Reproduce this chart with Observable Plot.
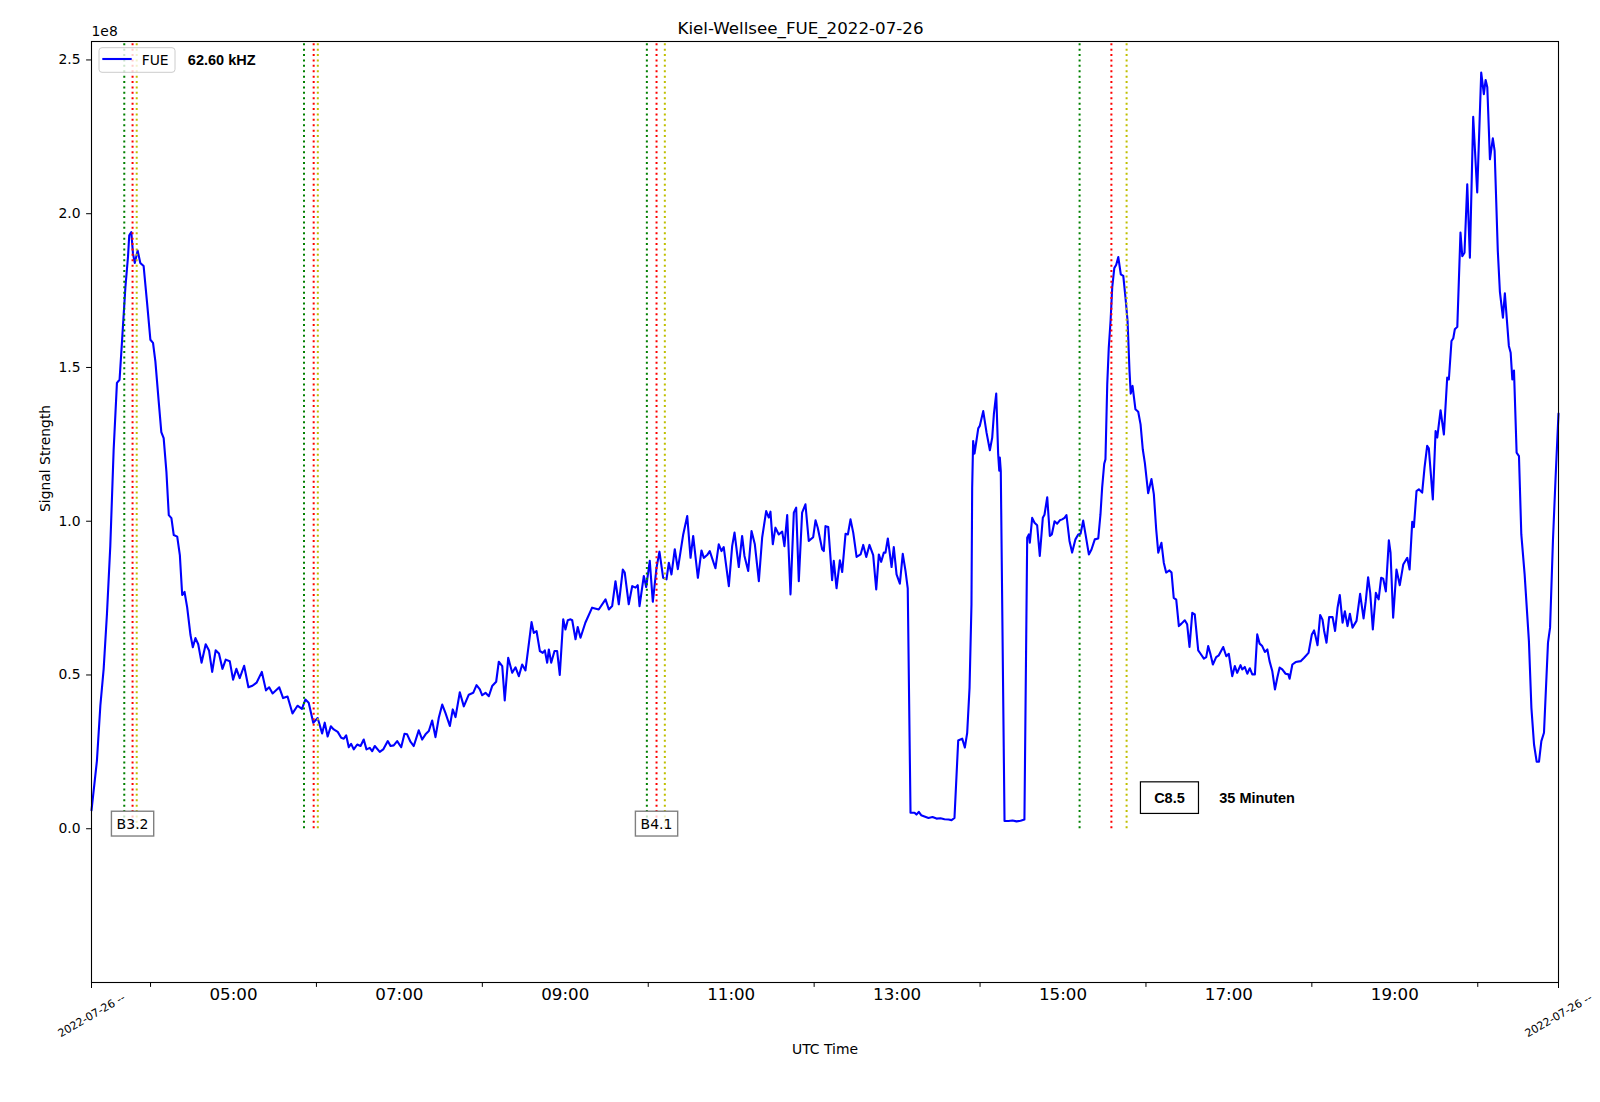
<!DOCTYPE html>
<html>
<head>
<meta charset="utf-8">
<script src="https://cdn.jsdelivr.net/npm/d3@7"></script>
<script src="https://cdn.jsdelivr.net/npm/@observablehq/plot@0.6"></script>
<style>
  html, body { margin: 0; padding: 0; background: #ffffff; }
  #chart { width: 1600px; height: 1102px; }
</style>
</head>
<body>
<div id="chart"></div>
<script>
// ---- data (time in minutes after 00:00 UTC, signal in units of 1e8) ----
const minutes = [
197.3,201.2,203.7,206.1,208.5,210.9,213.3,215.7,217.6,219.3,221.8,223.7,224.6,226.1,227.3,228.6,230.7,232.6,235.0,237.5,
239.9,241.8,243.5,245.9,247.8,249.5,251.5,253.2,255.1,256.8,259.3,261.2,262.9,264.6,266.5,268.9,270.6,272.5,274.5,276.9,
279.9,282.3,284.6,287.1,289.5,292.0,294.4,297.3,299.7,302.1,304.5,307.7,310.8,313.7,316.7,320.5,323.5,325.8,328.3,333.1,
335.9,339.1,342.7,346.3,349.5,352.0,354.4,357.7,360.9,364.1,366.0,368.1,
370.4,372.5,375.4,377.9,379.8,381.5,383.4,385.1,387.0,389.5,391.9,394.2,396.2,398.6,400.3,402.2,405.8,408.3,411.6,413.6,
415.9,418.4,421.3,423.7,425.6,428.0,430.4,434.0,436.5,438.9,441.3,443.7,446.1,448.5,451.0,453.3,456.5,458.6,460.6,463.7,
466.6,470.2,473.4,475.8,478.2,479.9,482.3,484.7,487.1,490.0,491.9,494.4,496.2,498.7,501.6,504.0,506.4,508.8,511.2,513.6,
515.6,517.2,519.2,521.6,523.7,525.2,526.9,528.1,529.8,532.2,534.1,536.0,538.5,540.1,541.8,543.8,545.0,547.4,549.0,551.0,
554.5,
559.4,564.2,569.1,571.5,573.9,576.3,578.7,581.6,583.0,585.9,588.4,590.8,592.4,593.7,596.8,598.5,601.1,603.3,606.0,608.1,
610.8,613.2,614.9,616.8,619.2,621.4,625.3,628.2,630.6,632.5,635.9,638.5,640.2,642.6,644.5,648.6,651.0,653.0,654.6,658.3,
660.7,662.4,665.5,667.9,669.6,672.3,674.7,677.1,680.0,682.4,685.3,687.2,688.4,690.1,692.0,694.4,696.9,698.5,700.5,702.9,
705.3,707.0,708.9,711.3,713.7,716.1,
719.3,721.0,722.6,725.8,727.0,728.2,730.2,731.3,733.0,734.2,736.2,738.6,740.3,742.7,744.4,746.3,748.3,750.7,753.6,755.5,
757.7,760.0,762.7,764.9,766.8,768.5,770.4,771.6,773.3,776.0,777.6,779.6,782.0,784.1,786.1,787.7,
789.7,792.6,794.0,795.7,797.4,799.8,802.7,805.6,808.5,811.4,814.3,817.2,819.4,821.5,
824.2,827.1,829.0,830.7,832.4,833.8,834.3,835.0,836.0,837.2,838.7,839.8,842.3,844.7,847.1,848.8,850.0,851.7,853.1,853.9,
854.3,855.0,
857.7,860.6,863.5,866.4,869.3,872.1,
874.1,875.3,876.0,877.7,879.4,881.3,883.2,885.4,886.6,888.6,890.5,891.9,893.9,895.8,897.7,899.4,901.1,902.5,904.7,
906.6,909.0,911.0,912.7,914.6,916.3,918.7,920.6,923.0,925.5,927.1,928.3,929.8,930.7,932.0,933.1,934.4,935.6,937.1,938.5,
940.0,941.8,943.6,945.2,946.7,948.1,949.0,950.3,952.4,954.4,956.1,957.7,959.2,961.6,964.0,965.7,967.4,968.9,971.2,972.9,
974.6,977.0,978.5,980.1,981.9,983.8,985.7,988.1,989.8,991.5,993.5,995.3,997.8,999.5,1001.9,1003.6,1005.0,1006.7,1008.4,1010.8,
1012.7,1015.9,1018.1,1019.9,1022.4,1024.3,1026.0,1028.4,1029.6,1031.5,1033.3,1035.1,1036.9,1038.8,1040.5,1042.2,1044.1,1046.0,1047.8,1049.4,
1051.4,1053.3,1055.0,1056.7,1058.6,1061.0,1063.0,1063.9,1065.9,1068.3,1071.9,1074.4,1077.6,1080.0,1081.6,1082.9,
1084.1,1086.0,1087.7,1088.9,1090.6,1092.5,1095.0,1096.8,1098.6,1100.2,1102.2,1103.9,1105.8,1107.5,1109.4,1112.3,1114.9,1117.4,1119.0,1120.7,
1122.2,1124.1,1126.3,1128.3,1130.1,1131.6,1133.5,1135.7,1136.9,1138.8,1141.2,1143.6,1146.1,1149.0,1150.7,1152.6,1153.8,1155.7,1157.4,1159.8,
1161.5,1163.4,1164.6,1167.5,1169.5,1170.7,1173.1,1175.5,1177.9,1179.1,1181.0,1182.3,1183.4,1185.2,1187.5,1188.8,1190.4,1192.4,1194.3,1196.7,
1199.6,1202.5,1204.4,1205.7,1206.9,1208.8,1210.9,1212.2,1214.5,1216.0,1218.2,1219.6,1222.5,1223.8,1225.0,1226.2,1228.1,1229.8,1231.5,1233.9,
1237.0,1238.8,1240.7,1242.6,1244.3,1246.0,1247.9,1250.8,1252.3,1254.4,1256.4,1258.4
];
const signal = [
0.06,0.22,0.40,0.52,0.70,0.92,1.23,1.45,1.46,1.58,1.76,1.86,1.93,1.94,1.87,1.84,1.88,1.84,1.83,1.71,
1.59,1.58,1.52,1.39,1.29,1.27,1.16,1.02,1.01,0.955,0.95,0.89,0.76,0.77,0.72,0.63,0.59,0.62,0.60,0.54,
0.60,0.58,0.51,0.58,0.57,0.52,0.55,0.545,0.485,0.52,0.49,0.53,0.46,0.465,0.475,0.51,0.45,0.46,0.44,0.46,
0.425,0.43,0.375,0.40,0.39,0.42,0.41,0.345,0.36,0.31,0.345,0.30,
0.333,0.323,0.315,0.296,0.293,0.304,0.265,0.276,0.258,0.274,0.269,0.290,0.258,0.263,0.252,0.269,0.250,0.258,0.285,0.269,
0.271,0.285,0.265,0.309,0.307,0.283,0.269,0.320,0.290,0.307,0.318,0.352,0.298,0.361,0.404,0.377,0.334,0.388,0.363,0.444,
0.398,0.436,0.442,0.467,0.453,0.434,0.442,0.431,0.464,0.478,0.543,0.529,0.417,0.556,0.507,0.525,0.496,0.534,0.515,0.600,
0.672,0.637,0.643,0.578,0.572,0.580,0.540,0.583,0.540,0.578,0.578,0.500,0.681,0.648,0.678,0.681,0.678,0.616,0.656,0.621,
0.67,
0.719,0.713,0.746,0.713,0.724,0.805,0.730,0.843,0.833,0.730,0.789,0.784,0.792,0.724,0.822,0.786,0.871,0.738,0.849,0.901,
0.816,0.811,0.865,0.827,0.909,0.844,0.957,1.017,0.881,0.952,0.816,0.905,0.881,0.890,0.903,0.847,0.925,0.903,0.916,0.789,
0.919,0.963,0.851,0.952,0.887,0.838,0.968,0.925,0.805,0.947,1.033,1.012,1.031,0.925,0.979,0.957,0.966,0.919,1.020,0.762,
1.028,1.044,0.805,1.028,1.055,0.936,
0.948,1.003,0.979,0.909,0.903,0.984,0.981,0.914,0.808,0.871,0.782,0.873,0.835,0.959,0.957,1.006,0.962,0.884,0.892,0.923,
0.884,0.923,0.890,0.778,0.892,0.868,0.898,0.898,0.944,0.851,0.916,0.827,0.797,0.894,0.838,0.782,
0.052,0.052,0.046,0.055,0.044,0.040,0.035,0.038,0.033,0.034,0.031,0.030,0.028,0.035,
0.287,0.293,0.264,0.312,0.458,0.730,1.109,1.261,1.220,1.256,1.302,1.310,1.358,1.288,1.231,1.272,1.348,1.415,1.218,1.164,
1.207,1.164,
0.025,0.025,0.027,0.024,0.026,0.030,
0.946,0.957,0.930,1.011,0.995,0.987,0.887,1.011,1.021,1.078,0.952,0.957,1.000,0.992,1.003,1.006,1.011,1.020,0.936,
0.898,0.941,0.957,0.959,1.002,0.957,0.892,0.908,0.941,0.944,1.022,1.109,1.187,1.201,1.445,1.564,1.651,1.760,1.823,1.834,
1.859,1.803,1.798,1.727,1.651,1.489,1.415,1.440,1.364,1.356,1.315,1.234,1.190,1.091,1.137,1.088,0.974,0.898,0.930,0.865,
0.833,0.840,0.833,0.751,0.745,0.659,0.667,0.678,0.665,0.591,0.702,0.697,0.580,0.569,0.553,0.558,0.594,0.567,0.534,0.558,
0.564,0.591,0.561,0.569,0.496,0.529,0.507,0.532,0.518,0.526,0.504,0.522,0.502,0.502,0.632,0.602,0.594,0.575,0.583,0.545,
0.512,0.453,0.491,0.524,0.518,0.504,0.502,0.488,0.534,0.542,0.545,0.556,0.572,0.632,0.645,0.621,
0.597,0.695,0.680,0.643,0.605,0.688,0.688,0.643,0.719,0.760,0.670,0.707,0.659,0.699,0.654,0.676,0.764,0.684,0.740,0.818,
0.767,0.648,0.767,0.746,0.816,0.813,0.772,0.938,0.898,0.686,0.843,0.792,0.859,0.881,0.843,0.998,0.981,1.098,1.104,1.093,
1.174,1.245,1.237,1.071,1.293,1.272,1.361,1.282,1.467,1.461,1.586,1.595,1.624,1.632,1.939,1.862,1.873,2.096,1.857,2.315,
2.069,2.459,2.389,2.435,2.411,2.177,2.245,2.204,1.879,1.747,1.662,1.741,1.570,1.548,1.461,1.490,1.223,1.212,0.957,0.827,
0.610,0.393,0.274,0.218,0.218,0.285,0.312,0.605,0.654,0.939,1.153,1.35
];

// flare times (start / peak / end)
const flareStart = ["03:41", "05:51", "09:59", "15:12"];
const flarePeak  = ["03:47", "05:58", "10:06", "15:35"];
const flareEnd   = ["03:50", "06:01", "10:12", "15:46"];
const flareColors = ["#008000", "#ff0000", "#bfbf00"];

// flare class labels at peak
const classLabelTimes = ["03:47", "10:06"];
const classLabelTexts = ["B3.2", "B4.1"];

// C-flare annotation
const bigFlareTime = ["16:17"];
const bigFlareText = ["C8.5"];
const durationTime = ["16:53"];
const durationText = ["35 Minuten"];
const annotationLevel = 0.1;

// frequency annotation
const freqTime = ["04:27"];
const freqText = ["62.60 kHZ"];
const freqLevel = 2.5;

// axes
const yTicks = [0, 0.5, 1.0, 1.5, 2.0, 2.5];
const yDomain = [-0.5, 2.56];
const labeledHours = ["05:00", "07:00", "09:00", "11:00", "13:00", "15:00", "17:00", "19:00"];
const unlabeledHours = ["04:00", "06:00", "08:00", "10:00", "12:00", "14:00", "16:00", "18:00", "20:00"];
const edgeLabel = "2022-07-26 --";
const seriesName = "FUE";
const titleText = "Kiel-Wellsee_FUE_2022-07-26";
const xLabel = "UTC Time";
const yLabel = "Signal Strength";
const exponentText = "1e8";

// ---- build ----
const day = Date.UTC(2022, 6, 26);
const at = s => { const p = s.split(":").map(Number); return new Date(day + (p[0] * 60 + p[1]) * 60000); };
const fromMin = m => new Date(day + m * 60000);
const series = minutes.map((m, i) => ({ t: fromMin(m), v: signal[i] }));
const xDomain = d3.extent(series, d => d.t);

const dotted = { y1: 0, y2: yDomain[1], strokeWidth: 2, strokeDasharray: "2,3.4" };
const frameLeft = 91, frameTop = 41;
const boldFont = "'Liberation Sans', Arial, sans-serif";
const boldSize = 14.5;

const plot = Plot.plot({
  width: 1600,
  height: 1102,
  marginLeft: frameLeft,
  marginRight: 42,
  marginTop: frameTop,
  marginBottom: 120,
  style: { fontFamily: "'DejaVu Sans', sans-serif", fontSize: "13.9px", color: "#000", background: "#fff", overflow: "visible" },
  x: { type: "utc", domain: xDomain, label: null },
  y: { domain: yDomain, label: null },
  marks: [
    Plot.line(series, { x: "t", y: "v", stroke: "#0000ff", strokeWidth: 2.1 }),
    Plot.ruleX(flareStart.map(at), { x: d => d, ...dotted, stroke: flareColors[0] }),
    Plot.ruleX(flarePeak.map(at), { x: d => d, ...dotted, stroke: flareColors[1] }),
    Plot.ruleX(flareEnd.map(at), { x: d => d, ...dotted, stroke: flareColors[2] }),
    Plot.frame({ stroke: "#000", strokeWidth: 1.1 }),
    Plot.axisY({ ticks: yTicks, tickFormat: d3.format(".1f"), tickSize: 4.9, tickPadding: 6, fontSize: 13.9, label: null }),
    Plot.axisX({ ticks: unlabeledHours.map(at), tickSize: 4.9, tickFormat: () => "", label: null }),
    Plot.axisX({ ticks: xDomain, tickSize: 6, tickFormat: () => "", label: null }),
    Plot.axisX({ ticks: labeledHours.map(at), tickSize: 0, tickPadding: 6, tickFormat: d3.utcFormat("%H:%M"), fontSize: 16.7, label: null }),
    Plot.text(xDomain, { x: d => d, frameAnchor: "bottom", dy: 33, rotate: -30, text: () => edgeLabel, fontSize: 11, lineAnchor: "middle", textAnchor: "middle" }),
    Plot.text(classLabelTimes, { x: d => at(d), y: 0, dy: -4.6, text: (d, i) => classLabelTexts[i], fontSize: 14, lineAnchor: "middle" }),
    Plot.text(bigFlareTime, { x: d => at(d), y: annotationLevel, text: (d, i) => bigFlareText[i], fontSize: boldSize, fontWeight: "bold", fontFamily: boldFont, lineAnchor: "middle" }),
    Plot.text(durationTime, { x: d => at(d), y: annotationLevel, text: (d, i) => durationText[i], fontSize: boldSize, fontWeight: "bold", fontFamily: boldFont, lineAnchor: "middle", textAnchor: "start" }),
    Plot.text(freqTime, { x: d => at(d), y: freqLevel, text: (d, i) => freqText[i], fontSize: boldSize, fontWeight: "bold", fontFamily: boldFont, lineAnchor: "middle", textAnchor: "start" }),
    Plot.text([exponentText], { frameAnchor: "top-left", text: d => d, textAnchor: "start", lineAnchor: "middle", dx: 0, dy: -10, fontSize: 13.9 }),
    Plot.text([yLabel], { frameAnchor: "left", text: d => d, rotate: -90, dx: -46, lineAnchor: "middle", fontSize: 13.9 }),
    Plot.text([xLabel], { frameAnchor: "bottom", text: d => d, dy: 67, lineAnchor: "middle", fontSize: 13.9 }),
    Plot.text([titleText], { frameAnchor: "top", text: d => d, dx: -24.5, dy: -12.4, lineAnchor: "middle", fontSize: 16.7 })
  ]
});

document.getElementById("chart").appendChild(plot);

// ---- boxes around labels ----
const svg = d3.select(plot);
function boxAround(texts, padX, padY, stroke, strokeWidth, fillOpacity) {
  svg.selectAll("text")
    .filter(function () { return texts.includes(this.textContent); })
    .each(function () {
      const node = this;
      const b = node.getBBox();
      d3.select(node.parentNode).insert("rect", () => node)
        .attr("x", b.x - padX).attr("y", b.y - padY)
        .attr("width", b.width + 2 * padX).attr("height", b.height + 2 * padY)
        .attr("transform", node.getAttribute("transform"))
        .attr("fill", "#fff").attr("fill-opacity", fillOpacity)
        .attr("stroke", stroke).attr("stroke-width", strokeWidth);
    });
}
boxAround(classLabelTexts, 5.2, 4.4, "#808080", 1.4, 0.75);
boxAround(bigFlareText, 13.7, 7.8, "#000", 1.2, 1);

// ---- legend ----
const lg = svg.append("g").attr("aria-label", "legend");
lg.append("rect")
  .attr("x", frameLeft + 8).attr("y", frameTop + 6.7).attr("width", 76).attr("height", 24.6)
  .attr("rx", 3).attr("fill", "#fff").attr("fill-opacity", 0.8)
  .attr("stroke", "#cccccc").attr("stroke-width", 1);
lg.append("line")
  .attr("x1", frameLeft + 11.3).attr("x2", frameLeft + 40.7).attr("y1", frameTop + 18).attr("y2", frameTop + 18)
  .attr("stroke", "#0000ff").attr("stroke-width", 2.1);
lg.append("text")
  .attr("x", frameLeft + 50.7).attr("y", frameTop + 19).attr("dy", "0.35em")
  .attr("text-anchor", "start")
  .attr("font-size", 13.9).attr("fill", "#000").text(seriesName);
</script>
</body>
</html>
